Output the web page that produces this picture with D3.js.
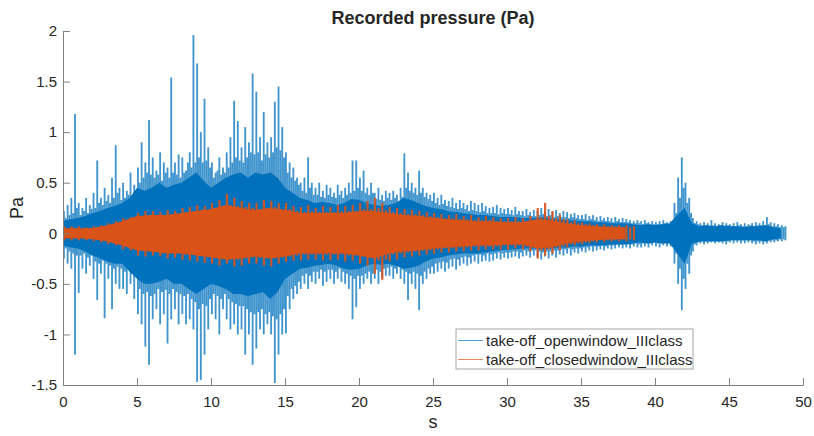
<html>
<head>
  <script src="https://cdn.jsdelivr.net/npm/d3@7/dist/d3.min.js"></script>
  <title>Recorded pressure</title>
  <style>
    * { margin: 0; padding: 0; }
    body { background: white; font-family: "Liberation Sans", Arial, sans-serif; }
    text { fill: #262626; }
  </style>
</head>
<body>
<div id="chart"></div>
<script>
  // open window: highest / lowest value in each 0.125 s bin (8 per second)
  var openStep = 0.125;
  var openHi = [
    0.22,0.15,0.28,0.18,0.35,0.20,1.18,0.25, 0.30,0.18,0.25,0.22,0.35,0.20,0.28,0.24,
    0.40,0.25,0.72,0.30,0.35,0.28,0.45,0.32, 0.38,0.30,0.55,0.35,0.87,0.40,0.45,0.33,
    0.50,0.35,0.42,0.38,0.60,0.36,0.48,0.40, 0.65,0.50,0.90,0.55,0.70,0.60,1.12,0.58,
    0.75,0.55,0.62,0.58,0.80,0.52,0.70,0.60, 0.65,0.55,1.54,0.60,0.70,0.58,0.78,0.55,
    0.75,0.60,0.62,0.70,0.80,0.65,1.96,0.70, 1.68,0.75,1.00,0.70,1.33,0.72,0.85,0.65,
    0.70,0.55,0.60,0.62,0.75,0.58,0.65,0.60, 0.80,0.65,0.95,0.70,1.31,0.75,1.11,0.72,
    0.85,0.70,1.05,0.75,0.90,0.80,1.58,0.78, 1.40,0.80,0.95,0.72,1.20,0.78,0.90,0.75,
    0.95,0.80,1.30,0.85,1.45,0.82,1.05,0.75, 0.80,0.60,0.70,0.55,0.65,0.52,0.55,0.48,
    0.50,0.42,0.55,0.40,0.75,0.45,0.50,0.38, 0.45,0.38,0.50,0.36,0.42,0.35,0.48,0.38,
    0.45,0.36,0.40,0.35,0.48,0.38,0.42,0.35, 0.45,0.38,0.50,0.40,0.72,0.42,0.72,0.45,
    0.55,0.42,0.62,0.40,0.45,0.38,0.50,0.40, 0.40,0.34,0.45,0.33,0.38,0.32,0.42,0.35,
    0.40,0.33,0.42,0.35,0.38,0.32,0.45,0.36, 0.79,0.45,0.60,0.42,0.50,0.40,0.45,0.38,
    0.62,0.40,0.45,0.36,0.40,0.34,0.38,0.32, 0.40,0.30,0.35,0.28,0.38,0.29,0.33,0.27,
    0.32,0.26,0.35,0.25,0.30,0.24,0.33,0.25, 0.30,0.24,0.28,0.22,0.32,0.23,0.30,0.22,
    0.28,0.21,0.30,0.22,0.27,0.20,0.25,0.20, 0.26,0.20,0.28,0.19,0.25,0.20,0.24,0.19,
    0.25,0.19,0.23,0.18,0.26,0.19,0.22,0.18, 0.22,0.17,0.24,0.18,0.21,0.17,0.23,0.17,
    0.22,0.18,0.25,0.19,0.22,0.17,0.24,0.18, 0.21,0.16,0.23,0.17,0.20,0.16,0.22,0.16,
    0.21,0.15,0.19,0.16,0.20,0.15,0.18,0.14, 0.18,0.14,0.19,0.13,0.17,0.14,0.18,0.13,
    0.16,0.12,0.17,0.13,0.15,0.12,0.16,0.12, 0.15,0.11,0.16,0.12,0.14,0.11,0.15,0.11,
    0.14,0.11,0.13,0.10,0.12,0.10,0.13,0.10, 0.12,0.09,0.13,0.10,0.11,0.09,0.12,0.09,
    0.11,0.09,0.12,0.09,0.13,0.10,0.11,0.09, 0.12,0.10,0.30,0.20,0.55,0.35,0.75,0.45,
    0.50,0.30,0.35,0.20,0.15,0.10,0.12,0.09, 0.10,0.08,0.11,0.08,0.10,0.07,0.13,0.08,
    0.10,0.07,0.09,0.08,0.11,0.07,0.10,0.08, 0.09,0.07,0.10,0.07,0.11,0.08,0.09,0.07,
    0.10,0.07,0.09,0.08,0.10,0.07,0.11,0.08, 0.10,0.08,0.12,0.08,0.16,0.09,0.11,0.07,
    0.10,0.07,0.09,0.06,0.08,0.06,0.07
  ];
  var openLo = [
    -0.25,-0.15,-0.30,-0.18,-0.35,-0.20,-1.20,-0.22, -0.59,-0.22,-0.35,-0.20,-0.40,-0.24,-0.32,-0.22,
    -0.45,-0.28,-0.66,-0.30,-0.40,-0.27,-0.84,-0.30, -0.45,-0.32,-0.75,-0.35,-0.50,-0.33,-0.55,-0.35,
    -0.55,-0.38,-0.60,-0.36,-0.50,-0.40,-0.65,-0.42, -0.80,-0.55,-0.90,-0.60,-1.12,-0.58,-1.30,-0.62,
    -0.85,-0.60,-0.75,-0.55,-0.90,-0.58,-0.80,-0.56, -1.09,-0.60,-0.85,-0.55,-0.75,-0.58,-0.90,-0.60,
    -0.80,-0.62,-0.90,-0.60,-0.85,-0.65,-0.95,-0.68, -1.47,-0.75,-1.45,-0.70,-1.20,-0.72,-0.95,-0.65,
    -0.80,-0.60,-0.85,-0.62,-1.00,-0.65,-0.75,-0.60, -0.85,-0.65,-0.95,-0.68,-0.90,-0.70,-1.00,-0.72,
    -0.95,-0.72,-1.20,-0.75,-1.00,-0.78,-1.30,-0.80, -1.14,-0.78,-0.95,-0.75,-1.00,-0.80,-0.90,-0.78,
    -1.00,-0.82,-1.48,-0.85,-1.20,-0.80,-1.00,-0.75, -0.99,-0.62,-0.75,-0.55,-0.65,-0.52,-0.60,-0.48,
    -0.55,-0.42,-0.50,-0.40,-0.55,-0.42,-0.48,-0.38, -0.50,-0.38,-0.45,-0.36,-0.52,-0.38,-0.48,-0.36,
    -0.45,-0.36,-0.50,-0.38,-0.45,-0.35,-0.48,-0.38, -0.50,-0.40,-0.55,-0.42,-0.85,-0.45,-0.73,-0.42,
    -0.55,-0.42,-0.50,-0.40,-0.45,-0.38,-0.50,-0.40, -0.45,-0.36,-0.50,-0.38,-0.45,-0.35,-0.42,-0.34,
    -0.42,-0.33,-0.45,-0.35,-0.40,-0.32,-0.45,-0.36, -0.50,-0.38,-0.66,-0.40,-0.50,-0.38,-0.55,-0.40,
    -0.76,-0.42,-0.50,-0.38,-0.45,-0.35,-0.40,-0.33, -0.40,-0.30,-0.38,-0.29,-0.35,-0.28,-0.38,-0.29,
    -0.35,-0.26,-0.33,-0.25,-0.36,-0.26,-0.32,-0.24, -0.30,-0.23,-0.32,-0.24,-0.30,-0.22,-0.28,-0.21,
    -0.30,-0.21,-0.28,-0.22,-0.27,-0.20,-0.28,-0.21, -0.27,-0.20,-0.25,-0.19,-0.26,-0.20,-0.24,-0.19,
    -0.25,-0.19,-0.24,-0.18,-0.23,-0.18,-0.25,-0.19, -0.23,-0.17,-0.22,-0.18,-0.24,-0.17,-0.22,-0.17,
    -0.24,-0.18,-0.26,-0.19,-0.23,-0.18,-0.25,-0.18, -0.22,-0.17,-0.24,-0.17,-0.21,-0.16,-0.22,-0.16,
    -0.20,-0.15,-0.22,-0.16,-0.19,-0.15,-0.20,-0.15, -0.18,-0.14,-0.19,-0.14,-0.17,-0.13,-0.18,-0.13,
    -0.17,-0.13,-0.16,-0.12,-0.17,-0.13,-0.15,-0.12, -0.16,-0.12,-0.15,-0.11,-0.14,-0.11,-0.15,-0.11,
    -0.14,-0.11,-0.15,-0.11,-0.13,-0.10,-0.14,-0.11, -0.14,-0.10,-0.13,-0.10,-0.14,-0.10,-0.12,-0.09,
    -0.13,-0.10,-0.14,-0.10,-0.12,-0.09,-0.13,-0.10, -0.13,-0.10,-0.30,-0.20,-0.50,-0.35,-0.76,-0.45,
    -0.55,-0.30,-0.40,-0.22,-0.18,-0.11,-0.12,-0.09, -0.10,-0.08,-0.11,-0.08,-0.10,-0.07,-0.09,-0.07,
    -0.10,-0.07,-0.09,-0.07,-0.10,-0.08,-0.11,-0.08, -0.09,-0.07,-0.10,-0.07,-0.09,-0.07,-0.10,-0.07,
    -0.10,-0.07,-0.09,-0.07,-0.10,-0.08,-0.11,-0.08, -0.10,-0.08,-0.11,-0.08,-0.10,-0.07,-0.09,-0.07,
    -0.09,-0.07,-0.08,-0.06,-0.08,-0.06,-0.07
  ];
  // open window: dense core band, one reading per 0.5 s
  var openCoreStep = 0.5;
  var openCoreHi = [
    0.12,0.14, 0.15,0.17, 0.20,0.22, 0.25,0.27, 0.30,0.35, 0.45,0.42, 0.45,0.50, 0.45,0.48, 0.50,0.55, 0.60,0.52,
    0.45,0.50, 0.55,0.58, 0.60,0.55, 0.60,0.58, 0.60,0.55, 0.45,0.40, 0.35,0.33, 0.30,0.31, 0.30,0.28, 0.30,0.34,
    0.33,0.30, 0.28,0.27, 0.28,0.30, 0.35,0.33, 0.30,0.27, 0.25,0.24, 0.22,0.21, 0.20,0.19, 0.18,0.18, 0.17,0.16,
    0.16,0.16, 0.15,0.15, 0.15,0.16, 0.14,0.14, 0.13,0.13, 0.12,0.12, 0.11,0.11, 0.10,0.10, 0.10,0.09, 0.08,0.09,
    0.08,0.09, 0.10,0.18, 0.25,0.10, 0.07,0.08, 0.07,0.08, 0.07,0.07, 0.06,0.07, 0.07,0.08, 0.06,0.05
  ];
  var openCoreLo = [
    -0.12,-0.14, -0.15,-0.18, -0.22,-0.25, -0.28,-0.30, -0.30,-0.38, -0.45,-0.50, -0.50,-0.48, -0.45,-0.50, -0.50,-0.55, -0.60,-0.55,
    -0.50,-0.52, -0.55,-0.60, -0.60,-0.62, -0.60,-0.58, -0.65,-0.58, -0.45,-0.40, -0.35,-0.34, -0.32,-0.31, -0.30,-0.32, -0.35,-0.36,
    -0.35,-0.32, -0.30,-0.31, -0.30,-0.32, -0.35,-0.34, -0.32,-0.28, -0.25,-0.24, -0.22,-0.21, -0.20,-0.20, -0.20,-0.19, -0.18,-0.17,
    -0.16,-0.16, -0.15,-0.15, -0.15,-0.16, -0.15,-0.14, -0.14,-0.13, -0.13,-0.12, -0.12,-0.12, -0.11,-0.11, -0.11,-0.10, -0.09,-0.10,
    -0.09,-0.10, -0.10,-0.20, -0.30,-0.10, -0.08,-0.08, -0.08,-0.08, -0.07,-0.07, -0.07,-0.07, -0.07,-0.08, -0.06,-0.05
  ];

  // closed window: highest / lowest value in each 0.25 s bin (4 per second)
  var closedStep = 0.25;
  var closedHi = [
    0.07,0.05,0.07,0.05, 0.07,0.05,0.06,0.05, 0.07,0.06,0.08,0.06, 0.10,0.08,0.12,0.09, 0.15,0.12,0.16,0.13,
    0.20,0.17,0.22,0.18, 0.22,0.18,0.21,0.18, 0.23,0.19,0.22,0.19, 0.25,0.21,0.26,0.22, 0.28,0.23,0.27,0.23,
    0.30,0.25,0.33,0.26, 0.39,0.28,0.35,0.27, 0.32,0.26,0.30,0.25, 0.30,0.24,0.33,0.25, 0.32,0.26,0.30,0.24,
    0.30,0.24,0.27,0.22, 0.26,0.21,0.28,0.22, 0.25,0.21,0.27,0.21, 0.26,0.21,0.28,0.22, 0.27,0.22,0.28,0.22,
    0.30,0.24,0.32,0.24, 0.35,0.25,0.30,0.23, 0.26,0.21,0.25,0.20, 0.24,0.19,0.23,0.19, 0.22,0.18,0.21,0.17,
    0.20,0.16,0.19,0.15, 0.18,0.15,0.19,0.14, 0.17,0.14,0.18,0.13, 0.16,0.13,0.17,0.13, 0.16,0.12,0.15,0.12,
    0.15,0.12,0.16,0.12, 0.15,0.12,0.17,0.13, 0.25,0.16,0.30,0.17, 0.22,0.15,0.18,0.14, 0.14,0.11,0.13,0.10,
    0.11,0.09,0.10,0.08, 0.09,0.07,0.09,0.07, 0.08,0.07,0.08,0.06, 0.08,0.06,0.07
  ];
  var closedLo = [
    -0.07,-0.05,-0.07,-0.05, -0.07,-0.05,-0.07,-0.05, -0.08,-0.06,-0.09,-0.07, -0.11,-0.09,-0.12,-0.09, -0.16,-0.13,-0.17,-0.13,
    -0.22,-0.17,-0.23,-0.18, -0.22,-0.18,-0.23,-0.18, -0.25,-0.20,-0.24,-0.19, -0.26,-0.21,-0.27,-0.21, -0.28,-0.22,-0.29,-0.23,
    -0.30,-0.24,-0.32,-0.25, -0.30,-0.26,-0.33,-0.26, -0.32,-0.25,-0.30,-0.24, -0.30,-0.24,-0.32,-0.25, -0.33,-0.25,-0.30,-0.24,
    -0.28,-0.23,-0.27,-0.22, -0.27,-0.21,-0.26,-0.21, -0.26,-0.21,-0.27,-0.21, -0.27,-0.21,-0.26,-0.21, -0.28,-0.22,-0.27,-0.22,
    -0.30,-0.23,-0.32,-0.24, -0.40,-0.27,-0.46,-0.26, -0.28,-0.21,-0.26,-0.20, -0.24,-0.19,-0.23,-0.18, -0.22,-0.17,-0.21,-0.17,
    -0.20,-0.16,-0.19,-0.15, -0.19,-0.15,-0.18,-0.14, -0.18,-0.14,-0.17,-0.13, -0.17,-0.13,-0.16,-0.13, -0.16,-0.13,-0.16,-0.12,
    -0.16,-0.12,-0.15,-0.12, -0.16,-0.13,-0.18,-0.13, -0.25,-0.17,-0.22,-0.16, -0.20,-0.14,-0.17,-0.13, -0.14,-0.11,-0.12,-0.10,
    -0.11,-0.09,-0.10,-0.08, -0.09,-0.07,-0.09,-0.07, -0.08,-0.07,-0.08,-0.06, -0.08,-0.06,-0.07
  ];
  // closed window: dense core band, one reading per second
  var closedCoreStep = 1;
  var closedCoreHi = [0.05,0.05,0.05,0.08,0.12,0.17,0.18,0.18,0.20,0.22,0.24,0.28,0.25,0.23,0.25,0.23,0.20,0.20,0.20,0.20,
    0.22,0.22,0.20,0.18,0.17,0.15,0.14,0.13,0.12,0.12,0.11,0.11,0.14,0.13,0.10,0.08,0.07,0.06,0.06];
  var closedCoreLo = [-0.05,-0.05,-0.06,-0.08,-0.12,-0.17,-0.18,-0.20,-0.20,-0.22,-0.24,-0.26,-0.25,-0.23,-0.25,-0.23,-0.20,-0.20,-0.20,-0.20,
    -0.22,-0.25,-0.20,-0.18,-0.17,-0.15,-0.14,-0.13,-0.12,-0.12,-0.11,-0.11,-0.15,-0.14,-0.10,-0.08,-0.07,-0.06,-0.06];

  var xTicks = [0,5,10,15,20,25,30,35,40,45,50];
  var yTicks = [-1.5,-1,-0.5,0,0.5,1,1.5,2];
  var seriesNames = ["take-off_openwindow_IIIclass", "take-off_closedwindow_IIIclass"];
  var colors = ["#0072BD", "#D95319"];

  var w = 814, h = 436;
  var margin = {top: 31, right: 11, bottom: 51, left: 63};

  var svg = d3.select("#chart").append("svg")
      .attr("width", w)
      .attr("height", h);

  var x = d3.scaleLinear().domain([0, 50]).range([margin.left, w - margin.right]);
  var y = d3.scaleLinear().domain([-1.5, 2]).range([h - margin.bottom, margin.top]);

  // one column per bin, from its lowest to its highest value
  function columns(hi, lo, step) {
    return hi.map(function(v, i) { return {t: i * step, hi: v, lo: lo[i], step: step}; });
  }

  function bandPoints(hi, lo, step) {
    return hi.map(function(v, i) { return [i * step, v, lo[i]]; });
  }

  var band = d3.area()
      .x(function(d) { return x(d[0]); })
      .y0(function(d) { return y(d[2]); })
      .y1(function(d) { return y(d[1]); });

  function drawColumns(g, data, color, opacity, widthFrac) {
    g.selectAll("rect")
      .data(data)
      .enter()
      .append("rect")
      .attr("x", function(d) { return x(d.t); })
      .attr("y", function(d) { return y(d.hi); })
      .attr("width", function(d) { return (x(d.t + d.step) - x(d.t)) * widthFrac; })
      .attr("height", function(d) { return y(d.lo) - y(d.hi); })
      .attr("fill", color)
      .attr("fill-opacity", opacity);
  }

  var plot = svg.append("g");

  // open window: spikes, then the dense core over them
  drawColumns(plot.append("g"), columns(openHi, openLo, openStep), colors[0], 0.75, 1);
  plot.append("path")
      .datum(bandPoints(openCoreHi, openCoreLo, openCoreStep))
      .attr("d", band)
      .attr("fill", colors[0]);

  // closed window
  drawColumns(plot.append("g"), columns(closedHi, closedLo, closedStep), colors[1], 0.9, 0.6);
  plot.append("path")
      .datum(bandPoints(closedCoreHi, closedCoreLo, closedCoreStep))
      .attr("d", band)
      .attr("fill", colors[1]);

  // axes, ticks pointing inwards like matlab
  var fmt = function(d) { return String(d); };

  svg.append("g")
      .attr("transform", "translate(0," + (h - margin.bottom) + ")")
      .call(d3.axisBottom(x).tickValues(xTicks).tickFormat(fmt).tickSizeInner(-7).tickSizeOuter(0).tickPadding(11));
  svg.append("g")
      .attr("transform", "translate(" + margin.left + ",0)")
      .call(d3.axisLeft(y).tickValues(yTicks).tickFormat(fmt).tickSizeInner(-7).tickSizeOuter(0).tickPadding(6));

  svg.selectAll(".domain, .tick line").attr("stroke", "#808080");
  svg.selectAll(".tick text")
      .attr("font-family", "Liberation Sans, Arial, sans-serif")
      .attr("font-size", 15)
      .attr("fill", "#262626");

  svg.append("text")
      .attr("x", x(25)).attr("y", 24)
      .attr("text-anchor", "middle")
      .attr("font-size", 18).attr("font-weight", "bold")
      .text("Recorded pressure (Pa)");

  svg.append("text")
      .attr("x", x(25)).attr("y", 428)
      .attr("text-anchor", "middle")
      .attr("font-size", 18)
      .text("s");

  svg.append("text")
      .attr("transform", "translate(23," + y(0.25) + ") rotate(-90)")
      .attr("text-anchor", "middle")
      .attr("font-size", 18)
      .text("Pa");

  // legend
  var legend = svg.append("g").attr("transform", "translate(456,329)");
  legend.append("rect")
      .attr("width", 237).attr("height", 40)
      .attr("fill", "white")
      .attr("stroke", "#a6a6a6");
  seriesNames.forEach(function(name, i) {
    var ly = 11.5 + i * 19;
    legend.append("line")
        .attr("x1", 2).attr("x2", 27)
        .attr("y1", ly).attr("y2", ly)
        .attr("stroke", colors[i]).attr("stroke-width", 0.7);
    legend.append("text")
        .attr("x", 30).attr("y", ly + 5)
        .attr("font-size", 15)
        .text(name);
  });
</script>
</body>
</html>
